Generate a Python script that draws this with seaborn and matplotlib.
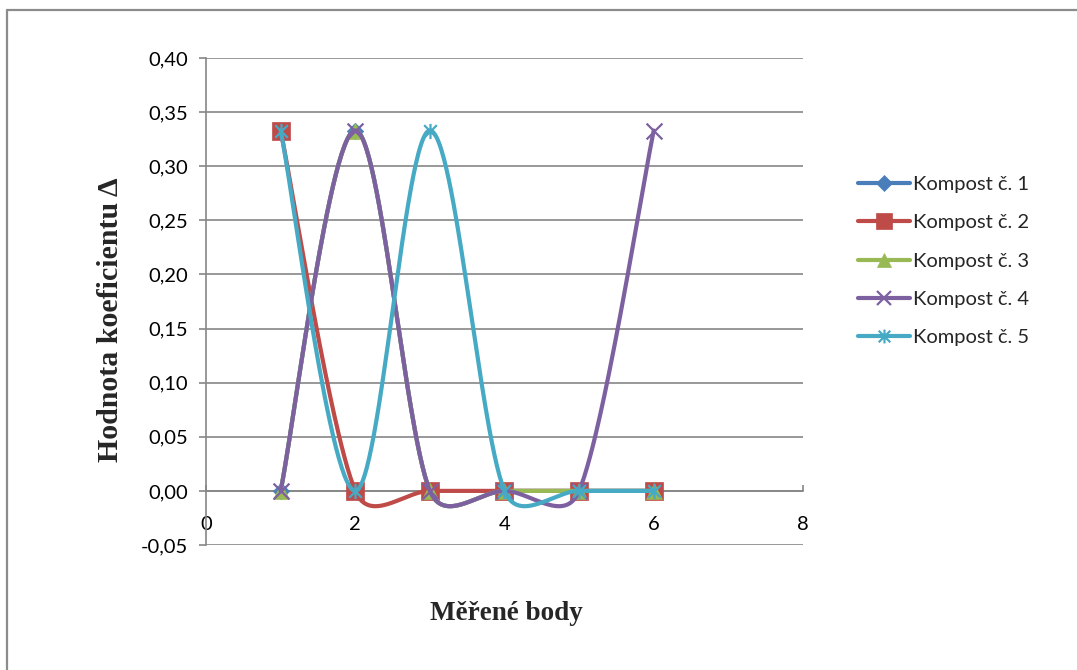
import numpy as np
import matplotlib
matplotlib.use("Agg")
import matplotlib.pyplot as plt
from matplotlib.path import Path
from matplotlib.lines import Line2D
import seaborn as sns

# measured points and coefficient values per compost sample
body = [1, 2, 3, 4, 5, 6]
kompost_1 = [0.0, 0.333, 0.0, 0.0, 0.0, 0.0]
kompost_2 = [0.333, 0.0, 0.0, 0.0, 0.0, 0.0]
kompost_3 = [0.0, 0.333, 0.0, 0.0, 0.0, 0.0]
kompost_4 = [0.0, 0.333, 0.0, 0.0, 0.0, 0.333]
kompost_5 = [0.333, 0.0, 0.333, 0.0, 0.0, 0.0]
series_labels = ["Kompost č. 1", "Kompost č. 2", "Kompost č. 3", "Kompost č. 4", "Kompost č. 5"]
y_ticks = [-0.05, 0.0, 0.05, 0.10, 0.15, 0.20, 0.25, 0.30, 0.35, 0.40]
x_ticks = [0, 2, 4, 6, 8]

series = [kompost_1, kompost_2, kompost_3, kompost_4, kompost_5]
colors = ["#4A7EBB", "#BE4B48", "#98B954", "#7D60A0", "#46AAC5"]

# six-armed star: an X crossed by a vertical bar
star = Path([(-1, -1), (1, 1), (-1, 1), (1, -1), (0, -1.2), (0, 1.2)],
            [Path.MOVETO, Path.LINETO, Path.MOVETO, Path.LINETO, Path.MOVETO, Path.LINETO])
marker_specs = [
    dict(marker="D", s=70, linewidth=0.5),
    dict(marker="s", s=150, linewidth=0.5),
    dict(marker="^", s=130, linewidth=0.5),
    dict(marker="x", s=130, linewidth=1.6),
    dict(marker=star, s=120, linewidth=1.6),
]
legend_sizes = [8, 11, 10, 10, 10]

sns.set_theme(style="white")
plt.rcParams["font.family"] = ["Lato", "DejaVu Sans"]

fig = plt.figure(figsize=(10.77, 6.70), dpi=100)
ax = fig.add_axes([206 / 1077, 1 - 545 / 670, 597 / 1077, 487 / 670])
ax.set_xlim(0, 8)
ax.set_ylim(-0.05, 0.40)

grid_color = "#868686"


def smooth_curve(ax, xs, ys, n=60):
    """Bezier smoothing of a polyline, computed in display space."""
    pts = ax.transData.transform(np.column_stack([xs, ys]))
    m = len(pts)
    out = [pts[0]]
    t = np.linspace(0, 1, n)[1:, None]
    for i in range(m - 1):
        p0 = pts[max(i - 1, 0)]
        p1 = pts[i]
        p2 = pts[i + 1]
        p3 = pts[min(i + 2, m - 1)]
        d12 = np.linalg.norm(p2 - p1)

        def ctrl(a, b):
            d = np.linalg.norm(b - a)
            if d == 0:
                return np.zeros(2)
            return (b - a) * min(1 / 6, d12 / (2 * d))

        c1 = p1 + ctrl(p0, p2)
        c2 = p2 - ctrl(p1, p3)
        seg = ((1 - t) ** 3) * p1 + 3 * ((1 - t) ** 2) * t * c1 + 3 * (1 - t) * (t ** 2) * c2 + (t ** 3) * p2
        out.extend(seg)
    return ax.transData.inverted().transform(np.array(out))


for k, (vals, col, spec) in enumerate(zip(series, colors, marker_specs)):
    curve = smooth_curve(ax, body, vals)
    sns.lineplot(x=curve[:, 0], y=curve[:, 1], sort=False, estimator=None,
                 color=col, linewidth=3.0, ax=ax, zorder=3 + 2 * k)
    sns.scatterplot(x=body, y=vals, color=col, edgecolor=col, ax=ax,
                    zorder=4 + 2 * k, legend=False, **spec)

# axes styling
for side in ["top", "right"]:
    ax.spines[side].set_visible(False)
ax.spines["left"].set_color(grid_color)
ax.spines["left"].set_linewidth(1.2)
ax.spines["bottom"].set_position(("data", 0))
ax.spines["bottom"].set_color(grid_color)
ax.spines["bottom"].set_linewidth(1.2)

ax.set_yticks(y_ticks)
ax.set_yticklabels([f"{v:.2f}".replace(".", ",") for v in y_ticks])
ax.set_xticks(x_ticks)
ax.set_xticklabels([str(v) for v in x_ticks])
ax.yaxis.grid(True, color=grid_color, linewidth=1.2)
ax.xaxis.grid(False)
ax.set_axisbelow(True)
ax.tick_params(axis="y", direction="out", length=5, width=1.2, color=grid_color,
               pad=8, labelsize=14.5, labelcolor="black", left=True)
ax.tick_params(axis="x", direction="in", length=4, width=1.2, color=grid_color,
               pad=18, labelsize=14.5, labelcolor="black", bottom=True)
ax.set_xlabel("")
ax.set_ylabel("")

fig.text(111 / 1077, 1 - 320 / 670, "Hodnota koeficientu Δ", rotation=90,
         ha="center", va="center", fontsize=21.5, fontweight="bold",
         family=["Liberation Serif", "DejaVu Serif"])
fig.text(506 / 1077, 1 - 613 / 670, "Měřené body", ha="center", va="center",
         fontsize=19.5, fontweight="bold", family=["Liberation Serif", "DejaVu Serif"])

handles = [
    Line2D([0], [0], color=col, linewidth=3.0, marker=spec["marker"], markersize=ms,
           markeredgecolor=col, markerfacecolor=col, markeredgewidth=spec["linewidth"])
    for col, spec, ms in zip(colors, marker_specs, legend_sizes)
]
fig.legend(handles, series_labels, loc="center left", bbox_to_anchor=(858 / 1077, 1 - 261 / 670),
           frameon=False, fontsize=14.5, handlelength=2.6, handletextpad=0.12,
           labelspacing=1.05, borderpad=0, borderaxespad=0)

# outer frame lines
fig.add_artist(Line2D([7 / 1077, 1], [1 - 10 / 670, 1 - 10 / 670], color="#8c8c8c", linewidth=1.6))
fig.add_artist(Line2D([7 / 1077, 7 / 1077], [0, 1 - 10 / 670], color="#8c8c8c", linewidth=1.6))

fig.savefig("out.png", dpi=100)
